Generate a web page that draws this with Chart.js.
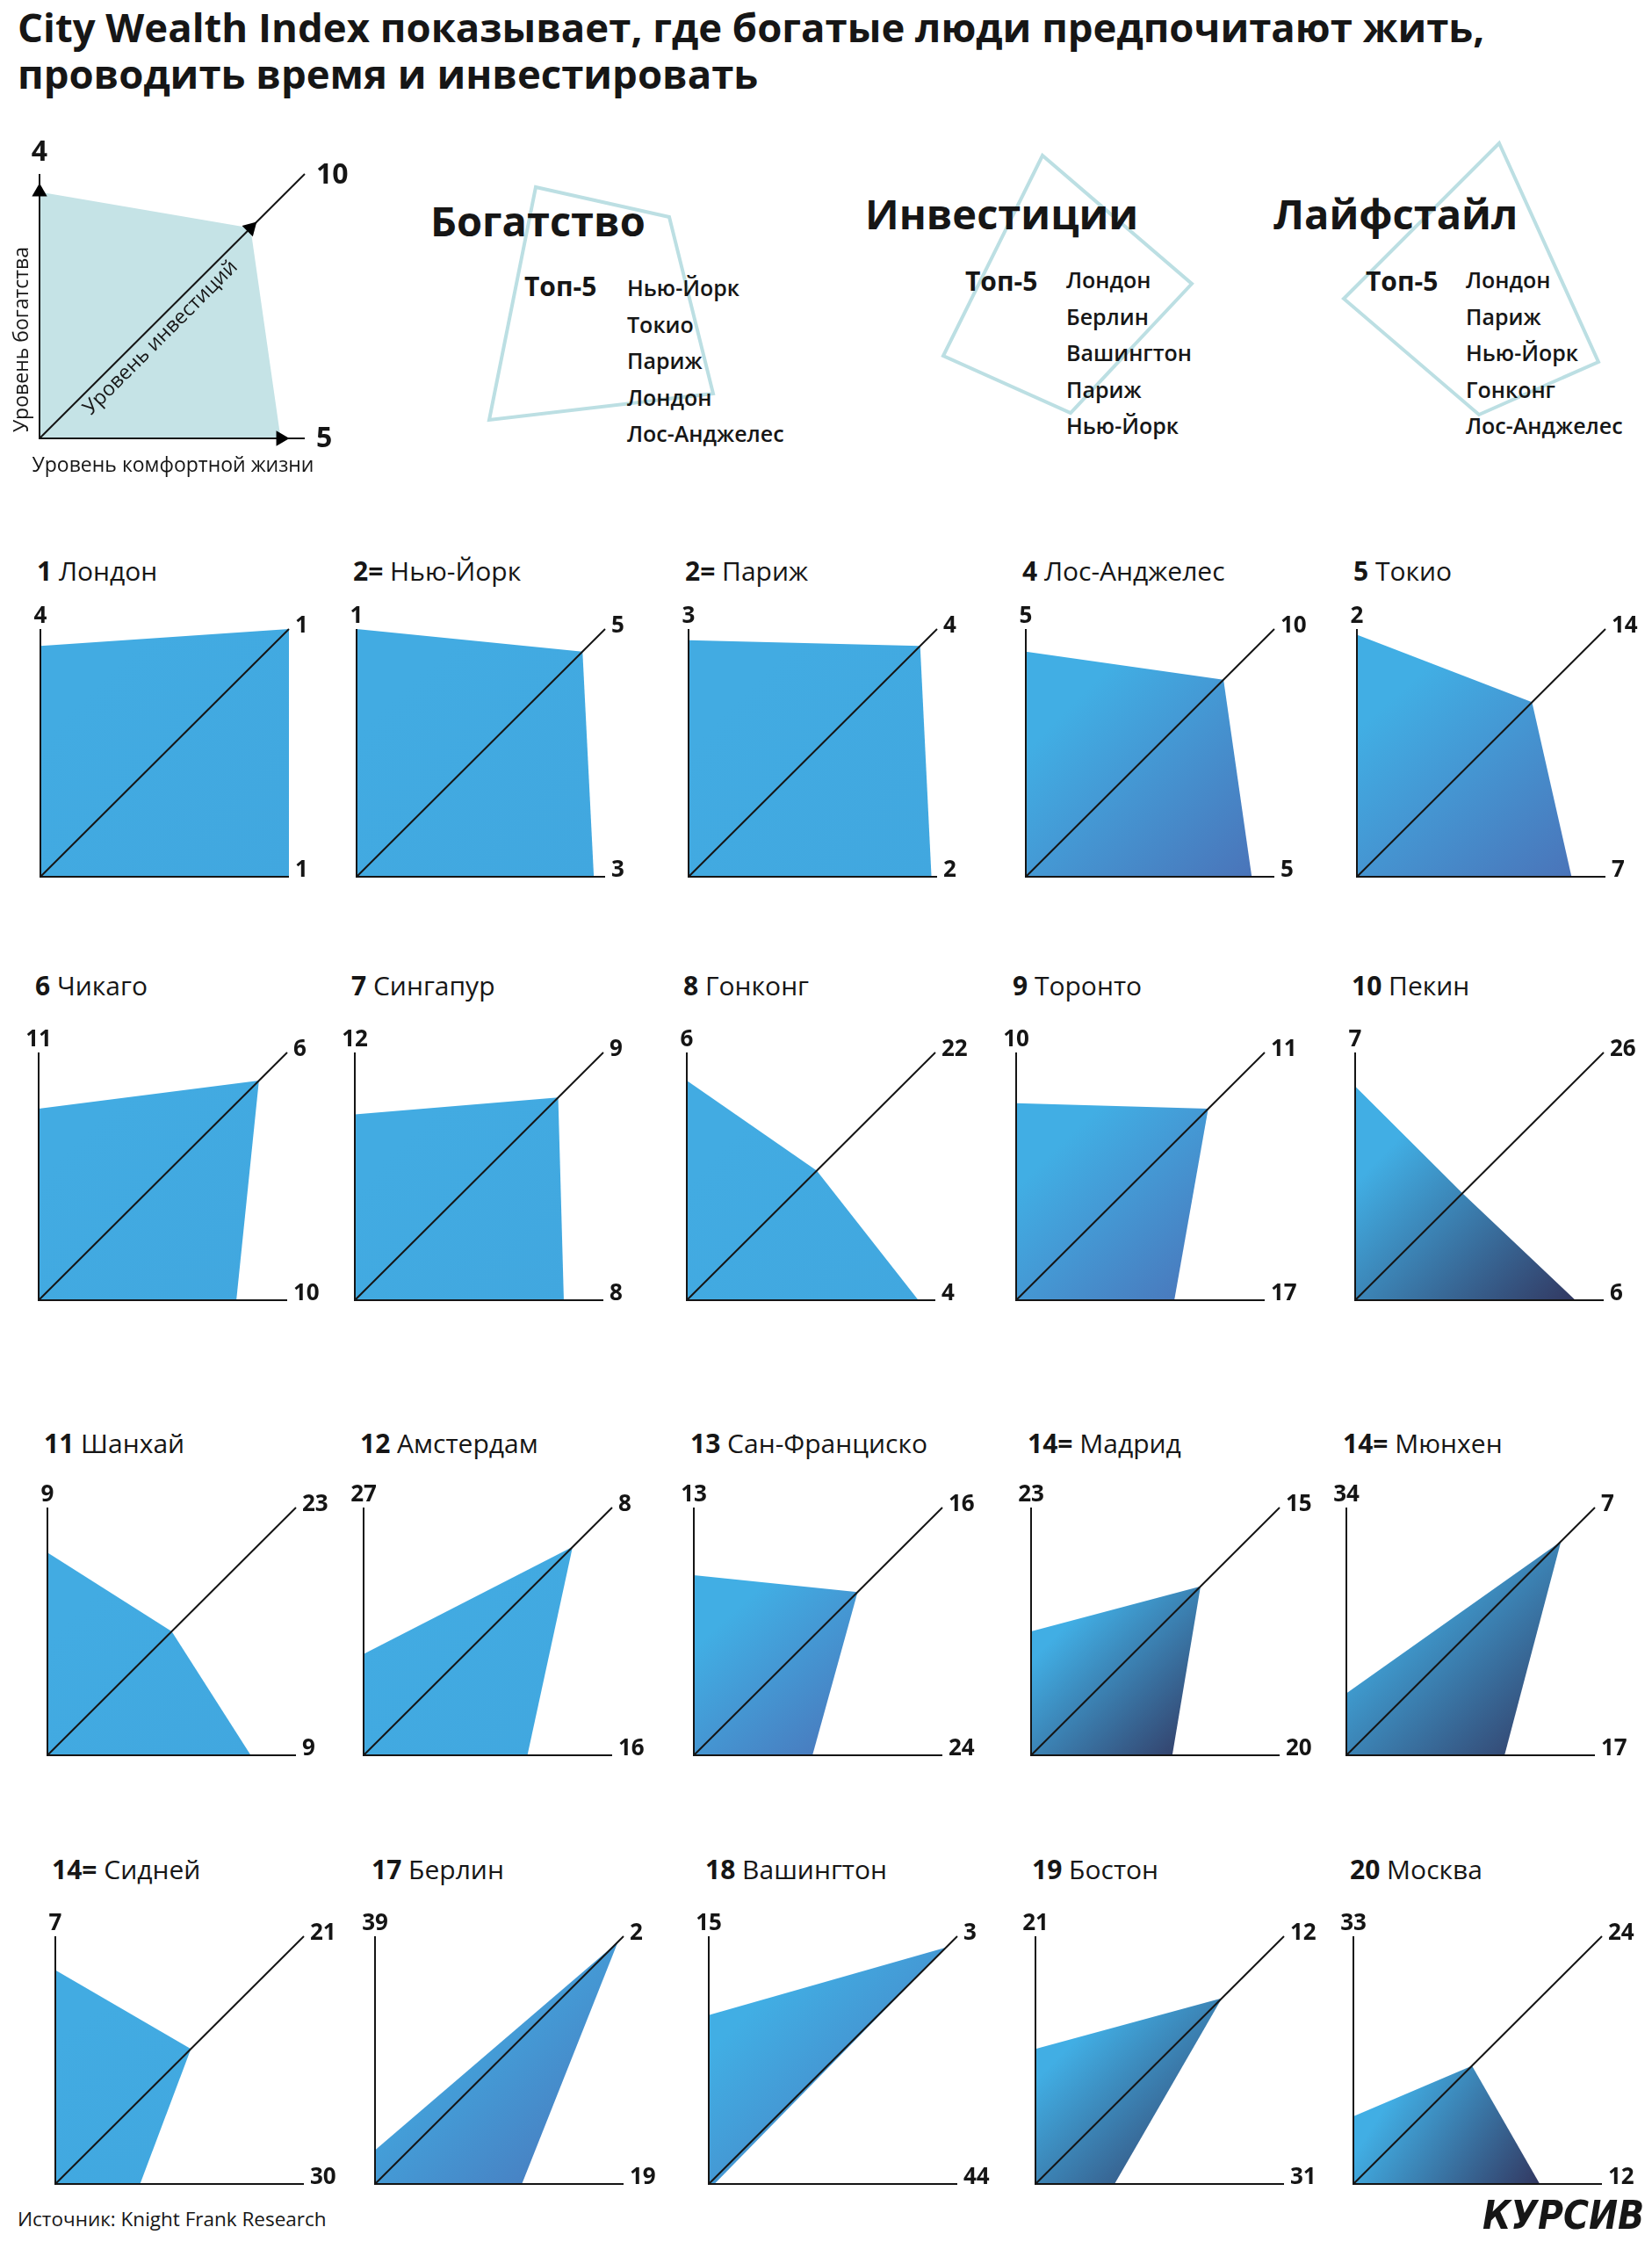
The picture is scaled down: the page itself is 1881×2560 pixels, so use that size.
<!DOCTYPE html>
<html lang="ru">
<head>
<meta charset="utf-8">
<title>City Wealth Index</title>
<script src="https://cdn.jsdelivr.net/npm/chart.js@4.4.1/dist/chart.umd.min.js"></script>
<style>
  html, body { margin: 0; padding: 0; background: #fff; }
  body { position: relative; width: 1881px; height: 2560px; overflow: hidden;
         font-family: "Open Sans", "Noto Sans", sans-serif; color: #161616; }
  .abs { position: absolute; white-space: nowrap; margin: 0; }
  #title { left: 20px; top: 4px; font-size: 45.5px; line-height: 53px; font-weight: 700; }
  .head { font-size: 47px; font-weight: 700; line-height: 60px; }
  .top5 { font-size: 30px; font-weight: 700; line-height: 40px; }
  .item { font-size: 25px; font-weight: 600; line-height: 34px; }
  .ctitle { font-size: 30px; line-height: 40px; }
  .ctitle b { font-weight: 700; }
  canvas { position: absolute; }
  #source { left: 20px; top: 2511px; font-size: 22.5px; line-height: 30px; }
  #logo { left: 1688px; top: 2496px; font: italic 700 44px "Liberation Sans Narrow", "DejaVu Sans Condensed", sans-serif; }
</style>
</head>
<body>
<h1 id="title" class="abs">City Wealth Index показывает, где богатые люди предпочитают жить,<br>проводить время и инвестировать</h1>
<svg class="abs" style="left:0;top:0" width="1881" height="560">
  <polygon points="610,213 762,247 812,448 557,478" fill="none" stroke="#bcdfe3" stroke-width="4"/>
  <polygon points="1187,177 1357,323 1219,470 1074,405" fill="none" stroke="#bcdfe3" stroke-width="4"/>
  <polygon points="1707,163 1820,412 1684,472 1530,340" fill="none" stroke="#bcdfe3" stroke-width="4"/>
</svg>
<div id="tops"></div>
<canvas id="legend" width="420" height="420" style="left:0;top:140px"></canvas>
<div id="charts"></div>
<div id="source" class="abs">Источник: Knight Frank Research</div>
<div id="logo" class="abs">КУРСИВ</div>
<script>
// --- data ---
const cities = ['Лондон', 'Нью-Йорк', 'Париж', 'Лос-Анджелес', 'Токио',
                'Чикаго', 'Сингапур', 'Гонконг', 'Торонто', 'Пекин',
                'Шанхай', 'Амстердам', 'Сан-Франциско', 'Мадрид', 'Мюнхен',
                'Сидней', 'Берлин', 'Вашингтон', 'Бостон', 'Москва'];
const overall    = ['1', '2=', '2=', '4', '5', '6', '7', '8', '9', '10',
                    '11', '12', '13', '14=', '14=', '14=', '17', '18', '19', '20'];
const wealth     = [4, 1, 3, 5, 2, 11, 12, 6, 10, 7, 9, 27, 13, 23, 34, 7, 39, 15, 21, 33];
const investment = [1, 5, 4, 10, 14, 6, 9, 22, 11, 26, 23, 8, 16, 15, 7, 21, 2, 3, 12, 24];
const lifestyle  = [1, 3, 2, 5, 7, 10, 8, 4, 17, 6, 9, 16, 24, 20, 17, 30, 19, 44, 31, 12];

const topWealth = ['Нью-Йорк', 'Токио', 'Париж', 'Лондон', 'Лос-Анджелес'];
const topInvest = ['Лондон', 'Берлин', 'Вашингтон', 'Париж', 'Нью-Йорк'];
const topLife   = ['Лондон', 'Париж', 'Нью-Йорк', 'Гонконг', 'Лос-Анджелес'];

const legendRanks = [4, 10, 5]; // wealth, investment, lifestyle
const axisNames = ['Уровень богатства', 'Уровень инвестиций', 'Уровень комфортной жизни'];

// rank 1 sits at the far end of an axis, RANK_MAX at the origin
const RANK_MIN = 1, RANK_MAX = 45;

// --- styles / layout ---
const tone = ['flat', 'flat', 'flat', 'mid', 'mid', 'flat', 'flat', 'flat', 'mid', 'dark',
              'flat', 'flat', 'mid', 'dark', 'dark', 'flat', 'mid', 'mid', 'dark', 'dark'];
const TONES = { flat: ['#42abe2', '#41a7df'], mid: ['#41aee4', '#4a74b9'], dark: ['#41aee4', '#323861'] };

const colX = [[46, 406, 784, 1168, 1545], [44, 404, 782, 1157, 1543],
              [54, 414, 790, 1174, 1533], [63, 427, 807, 1179, 1541]];
const rowTop = [716, 1198, 1716, 2204];
const titleMid = [650, 1122, 1643, 2128];
const BOX_W = 283, BOX_H = 282;
const PAD = { left: 40, top: 45, right: 70, bottom: 12 };

// --- top-5 blocks ---
const blocks = [
  { head: 'Богатство', names: topWealth, hx: 490, hy: 251, tx: 597, ty: 326, lx: 714, ly: 327 },
  { head: 'Инвестиции', names: topInvest, hx: 985, hy: 243, tx: 1099, ty: 320, lx: 1214, ly: 318 },
  { head: 'Лайфстайл', names: topLife, hx: 1450, hy: 243, tx: 1555, ty: 320, lx: 1669, ly: 318 }
];
const tops = document.getElementById('tops');
function place(parent, cls, text, x, yMid, lh) {
  const d = document.createElement('div');
  d.className = 'abs ' + cls;
  d.style.left = x + 'px';
  d.style.top = (yMid - lh / 2) + 'px';
  d.innerHTML = text;
  parent.appendChild(d);
  return d;
}
blocks.forEach(b => {
  place(tops, 'head', b.head, b.hx, b.hy, 60);
  place(tops, 'top5', 'Топ-5', b.tx, b.ty, 40);
  b.names.forEach((n, k) => place(tops, 'item', n, b.lx, b.ly + k * 41.5, 34));
});

// --- plugins ---
const rankLabels = {
  id: 'rankLabels',
  afterDatasetsDraw(chart, args, o) {
    const { ctx, scales: { x, y } } = chart;
    const ox = x.getPixelForValue(RANK_MAX), oy = y.getPixelForValue(RANK_MAX);
    const ex = x.getPixelForValue(RANK_MIN), ey = y.getPixelForValue(RANK_MIN);
    ctx.save();
    ctx.fillStyle = '#151515';
    ctx.font = o.font;
    ctx.textBaseline = 'alphabetic';
    ctx.textAlign = 'center';
    ctx.fillText(String(o.ranks[0]), ox, ey + o.topDy);
    ctx.textAlign = 'left';
    ctx.fillText(String(o.ranks[1]), ex + o.diagDx, ey + o.diagDy);
    ctx.fillText(String(o.ranks[2]), ex + o.endDx, oy + o.endDy);
    ctx.restore();
  }
};

const captions = {
  id: 'captions',
  afterDatasetsDraw(chart) {
    const { ctx, scales: { x, y } } = chart;
    const ox = x.getPixelForValue(RANK_MAX), oy = y.getPixelForValue(RANK_MAX);
    const ex = x.getPixelForValue(RANK_MIN), ey = y.getPixelForValue(RANK_MIN);
    ctx.save();
    ctx.fillStyle = '#161616';
    ctx.font = '23px "Open Sans"';
    ctx.textAlign = 'center';
    ctx.textBaseline = 'middle';
    ctx.save();
    ctx.translate(ox - 20, (oy + ey) / 2 + 38);
    ctx.rotate(-Math.PI / 2);
    ctx.fillText(axisNames[0], 0, 0);
    ctx.restore();
    const t = 0.42;
    ctx.save();
    ctx.translate(ox + (ex - ox) * t + 11, oy + (ey - oy) * t + 12);
    ctx.rotate(-Math.PI / 4);
    ctx.fillText(axisNames[1], 0, 0);
    ctx.restore();
    ctx.fillText(axisNames[2], (ox + ex) / 2 + 1, oy + 31);
    ctx.restore();
  }
};

function gradientFill(ranks, colors) {
  return function (context) {
    const chart = context.chart;
    if (!chart.chartArea) return colors[0];
    const xs = chart.scales.x, ys = chart.scales.y;
    const x0 = xs.getPixelForValue(RANK_MAX);
    const y1 = ys.getPixelForValue(RANK_MAX);
    const y0 = ys.getPixelForValue(Math.min(ranks[0], ranks[1]));
    const x1 = xs.getPixelForValue(Math.min(ranks[1], ranks[2]));
    const g = chart.ctx.createLinearGradient(x0, y0, x1, y1);
    g.addColorStop(0, colors[0]);
    g.addColorStop(0.22, colors[0]);
    g.addColorStop(1, colors[1]);
    return g;
  };
}

function makeChart(canvas, ranks, fill, labelOpts, extra, plugins, pad) {
  const lineStyle = { borderColor: '#151515', borderWidth: 2, pointRadius: 0, fill: false,
                      borderJoinStyle: 'miter', order: 1, clip: 10 };
  const datasets = [
    Object.assign({ data: [{ x: RANK_MAX, y: RANK_MIN }, { x: RANK_MAX, y: RANK_MAX }, { x: RANK_MIN, y: RANK_MAX }] }, lineStyle),
    Object.assign({ data: [{ x: RANK_MAX, y: RANK_MAX }, { x: RANK_MIN, y: RANK_MIN }] }, lineStyle),
    {
      data: [{ x: RANK_MAX, y: ranks[0] }, { x: ranks[1], y: ranks[1] },
             { x: ranks[2], y: RANK_MAX }, { x: RANK_MAX, y: RANK_MAX }],
      backgroundColor: fill, borderColor: 'rgba(0,0,0,0)', borderWidth: 0,
      pointRadius: 0, fill: 'shape', order: 3
    }
  ].concat(extra || []);
  return new Chart(canvas, {
    type: 'line',
    data: { datasets },
    options: {
      responsive: false,
      animation: false,
      events: [],
      layout: { padding: pad },
      scales: {
        x: { type: 'linear', min: RANK_MIN, max: RANK_MAX, reverse: true, display: false },
        y: { type: 'linear', min: RANK_MIN, max: RANK_MAX, reverse: true, display: false }
      },
      plugins: {
        legend: { display: false },
        tooltip: { enabled: false },
        rankLabels: Object.assign({ ranks }, labelOpts)
      }
    },
    plugins: [rankLabels].concat(plugins || [])
  });
}

// --- explanatory chart ---
makeChart(document.getElementById('legend'), legendRanks, '#c5e3e6',
  { font: '700 32px "Open Sans"', topDy: -15, diagDx: 13, diagDy: 11, endDx: 13, endDy: 10 },
  [{
    data: [{ x: RANK_MAX, y: legendRanks[0] }, { x: legendRanks[1], y: legendRanks[1] }, { x: legendRanks[2], y: RANK_MAX }],
    showLine: false, pointStyle: 'triangle', pointRadius: 10, pointRotation: [0, 45, 90],
    pointBackgroundColor: '#000', pointBorderColor: '#000', pointBorderWidth: 0, order: 0, clip: false
  }],
  [captions],
  { left: 45, top: 58, right: 73, bottom: 61 });

// --- city charts ---
const holder = document.getElementById('charts');
cities.forEach((city, i) => {
  const r = Math.floor(i / 5), c = i % 5;
  const ax = colX[r][c];
  place(holder, 'ctitle', '<b>' + overall[i] + '</b> ' + city, ax - 4, titleMid[r], 40);
  const cv = document.createElement('canvas');
  cv.width = PAD.left + BOX_W + PAD.right;
  cv.height = PAD.top + BOX_H + PAD.bottom;
  cv.style.left = (ax - PAD.left) + 'px';
  cv.style.top = (rowTop[r] - PAD.top) + 'px';
  holder.appendChild(cv);
  const ranks = [wealth[i], investment[i], lifestyle[i]];
  makeChart(cv, ranks, gradientFill(ranks, TONES[tone[i]]),
    { font: '700 26px "Open Sans"', topDy: -7, diagDx: 7, diagDy: 4, endDx: 7, endDy: 0 },
    null, null, PAD);
});
</script>
</body>
</html>
